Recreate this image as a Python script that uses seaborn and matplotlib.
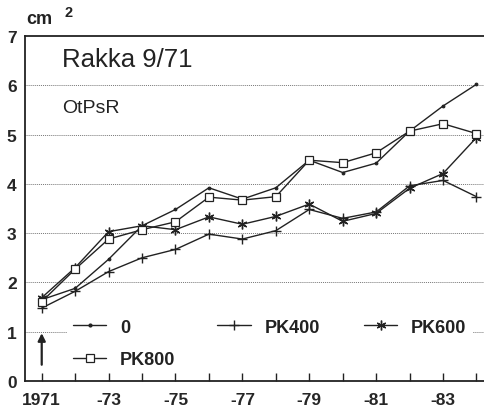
import matplotlib
matplotlib.use("Agg")
import matplotlib.pyplot as plt
import seaborn as sns
import pandas as pd
from matplotlib.lines import Line2D
from matplotlib.patches import Rectangle

years = list(range(1971, 1985))
s0 = [1.65, 1.88, 2.47, 3.15, 3.48, 3.92, 3.69, 3.92, 4.48, 4.23, 4.42, 5.07, 5.58, 6.02]
pk400 = [1.48, 1.82, 2.22, 2.50, 2.67, 2.98, 2.88, 3.05, 3.48, 3.30, 3.43, 3.96, 4.07, 3.74]
pk600 = [1.69, 2.30, 3.03, 3.15, 3.07, 3.33, 3.18, 3.34, 3.59, 3.24, 3.40, 3.91, 4.21, 4.94]
pk800 = [1.61, 2.27, 2.88, 3.07, 3.23, 3.73, 3.67, 3.74, 4.48, 4.43, 4.63, 5.07, 5.22, 5.02]
series_names = ["0", "PK400", "PK600", "PK800"]
xtick_years = [1971, 1973, 1975, 1977, 1979, 1981, 1983]
xtick_labels = ["1971", "-73", "-75", "-77", "-79", "-81", "-83"]
title = "Rakka 9/71"
subtitle = "OtPsR"

sns.set_theme(style="white")
plt.rcParams['font.family'] = ['Liberation Sans', 'DejaVu Sans']

fig = plt.figure(figsize=(4.85, 4.10), dpi=100)
ax = fig.add_axes([25/485, 28/410, 1 - 25/485 + 0.01, 345/410])

col = "#222222"
df = pd.DataFrame({"year": years, "0": s0, "PK400": pk400, "PK600": pk600, "PK800": pk800})

styles = {
    "0": dict(marker="o", markersize=2.0, markerfacecolor=col, markeredgecolor=col),
    "PK400": dict(marker="+", markersize=7, markeredgewidth=1.0, markeredgecolor=col),
    "PK600": dict(marker=(6, 2, 0), markersize=7, markeredgewidth=1.0, markeredgecolor=col),
    "PK800": dict(marker="s", markersize=5.3, markerfacecolor="white", markeredgewidth=0.9, markeredgecolor=col),
}
for name in series_names:
    sns.lineplot(data=df, x="year", y=name, ax=ax, color=col, linewidth=1.0, **styles[name])

ax.set_xlim(1970.5, 1984.4)
ax.set_ylim(0, 7)
ax.set_xlabel("")
ax.set_ylabel("")
ax.set_xticks(years)
ax.set_xticklabels([xtick_labels[xtick_years.index(y)] if y in xtick_years else "" for y in years],
                   fontsize=12.5, fontweight="bold")
ax.set_yticks(range(0, 8))
ax.set_yticklabels([str(v) for v in range(0, 8)], fontsize=12.5, fontweight="bold")
ax.tick_params(axis="x", direction="in", length=6, width=1.0, color=col, pad=8, bottom=True)
ax.tick_params(axis="y", length=0, pad=6)
for v in range(1, 7):
    ax.axhline(v, color="#777777", linestyle=(0, (1, 1)), linewidth=0.7, zorder=0)
for s in ["left", "bottom", "top"]:
    ax.spines[s].set_color(col)
    ax.spines[s].set_linewidth(1.3)
ax.spines["right"].set_visible(False)

# white backing behind the legend block (hides the grid line there)
ax.add_patch(Rectangle(((67 - 25) / 460, (382 - 372) / 345), (468 - 67) / 460, (372 - 312) / 345,
                       transform=ax.transAxes, facecolor="white", edgecolor="none", zorder=0.5))

ax.text(0.08, 0.912, title, transform=ax.transAxes, fontsize=18.5, color=col, va="baseline")
ax.text(0.08, 0.78, subtitle, transform=ax.transAxes, fontsize=14, color=col, va="baseline")
fig.text(26/485, 1 - 24/410, "cm", fontsize=13, fontweight="bold", color=col, va="baseline")
fig.text(65/485, 1 - 17/410, "2", fontsize=10.5, fontweight="bold", color=col, va="baseline")

ax.annotate("", xy=(1971, 0.97), xytext=(1971, 0.33),
            arrowprops=dict(arrowstyle="-|>", color=col, lw=1.6, mutation_scale=11,
                            shrinkA=0, shrinkB=0), zorder=3)

handles = {name: Line2D([], [], color=col, linewidth=1.0, **styles[name]) for name in series_names}
leg_cols = [(["0", "PK800"], (72 - 25) / 460), (["PK400"], (215 - 25) / 460), (["PK600"], (360 - 25) / 460)]
leg_kw = dict(loc="upper left", frameon=True, facecolor="white", edgecolor="none",
              framealpha=1, handlelength=1.85, labelspacing=0.85,
              handletextpad=0.75, prop=dict(size=13, weight="bold"), borderpad=0.15, borderaxespad=0)
top_frac = (382 - 317) / 345
legs = []
for names, xf in leg_cols:
    lg = ax.legend([handles[n] for n in names], names, bbox_to_anchor=(xf - 0.005, top_frac), **leg_kw)
    for t in lg.get_texts():
        t.set_color(col)
    legs.append(lg)
for lg in legs[:-1]:
    ax.add_artist(lg)

fig.savefig("out.png", dpi=100, facecolor="white")
